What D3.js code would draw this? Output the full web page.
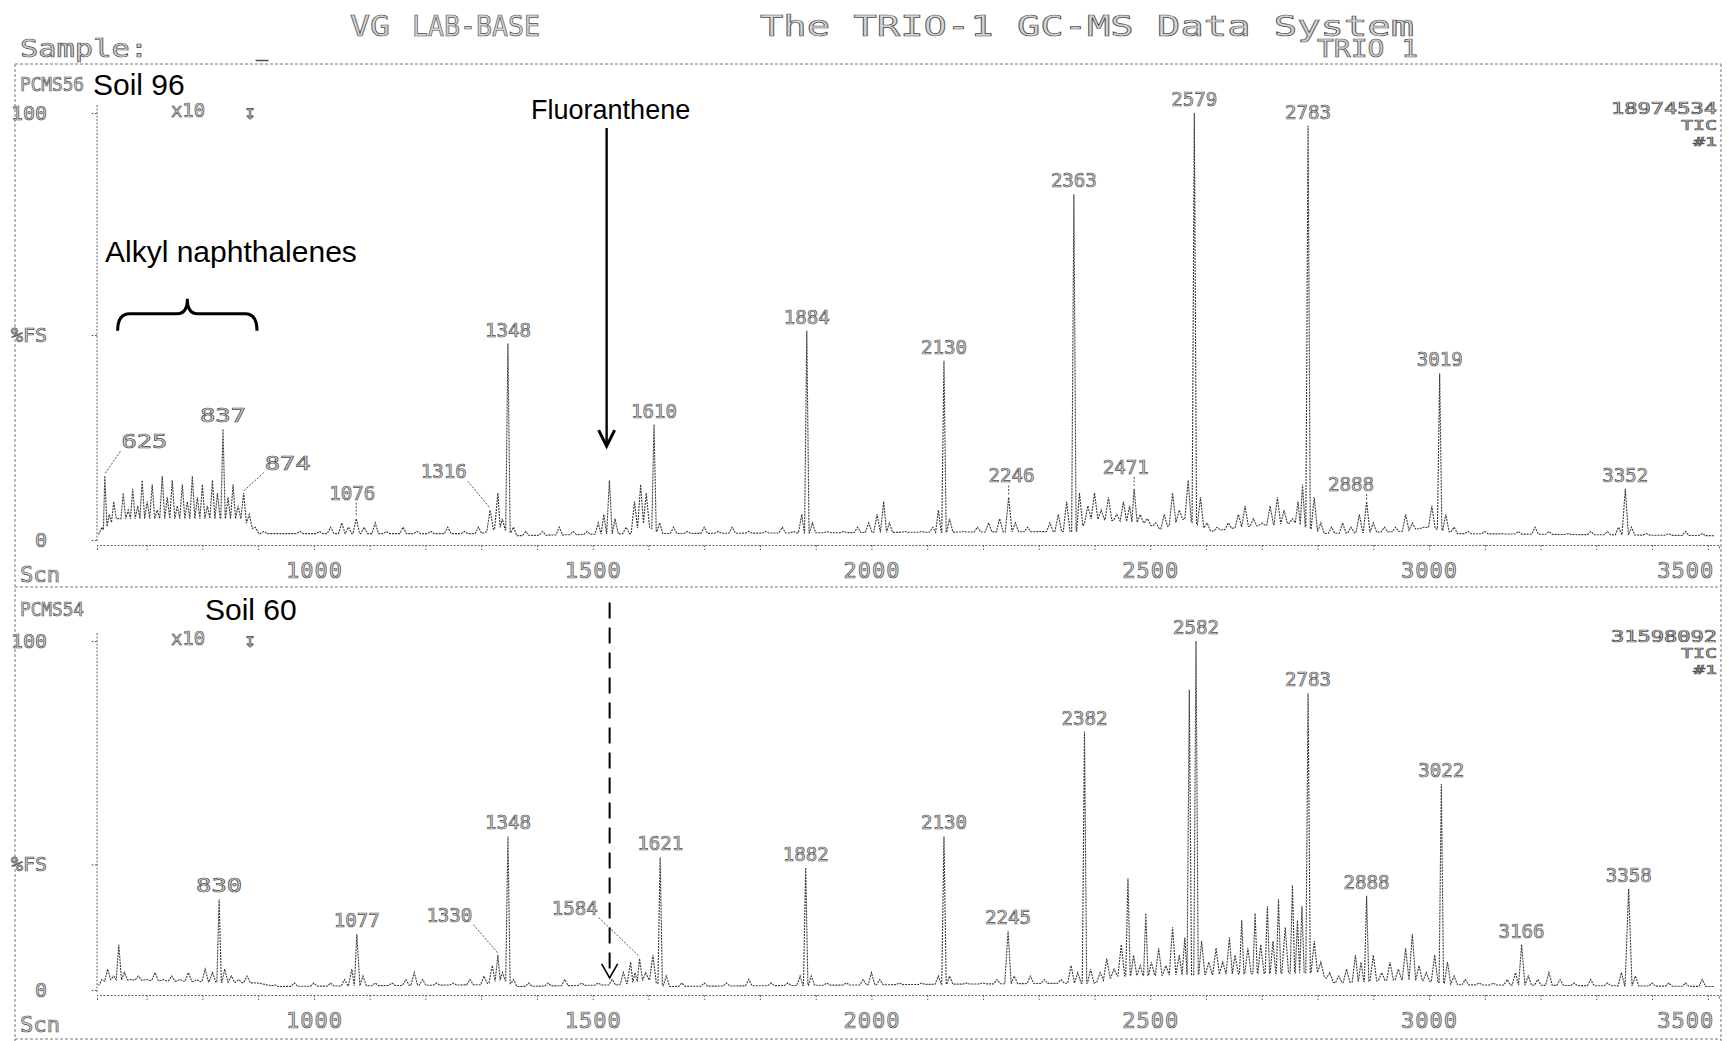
<!DOCTYPE html>
<html>
<head>
<meta charset="utf-8">
<script src="https://cdn.jsdelivr.net/npm/d3@7"></script>
<style>
  body { margin: 0; background: #fff; }
  .dm { font-family: "DejaVu Sans Mono", monospace; fill: #d4d4d4; stroke: #4d4d4d; stroke-width: 0.7; }
  .ann { font-family: "Liberation Sans", Arial, sans-serif; fill: #000; }
  .frame line { stroke: #777; stroke-width: 1; stroke-dasharray: 3 2; }
  .axis path, .axis line { stroke: #666; stroke-width: 1; stroke-dasharray: 2 1.5; }
  .trace { fill: none; stroke: #3a3a3a; stroke-width: 1.1; stroke-dasharray: 2 1; }
  .leader { stroke: #555; stroke-width: 1; stroke-dasharray: 2 1.5; }
</style>
</head>
<body>
<svg id="chart"></svg>
<script>
// scan range of the plots
var xDomain = [611, 3520];
var xTickLabels = [1000, 1500, 2000, 2500, 3000, 3500];
var xMinorTicks = [700, 800, 900, 1000, 1100, 1200, 1300, 1400, 1500, 1600, 1700, 1800, 1900, 2000,
  2100, 2200, 2300, 2400, 2500, 2600, 2700, 2800, 2900, 3000, 3100, 3200, 3300, 3400, 3500];
var yTickLabels = ["0", "%FS", "100"];
var topYTicks = [0, 48, 100];
var bottomYTicks = [0, 36, 100];

var panelIds = ["PCMS56", "PCMS54"];
var soilNames = ["Soil 96", "Soil 60"];
var ticTotals = ["18974534", "31598092"];

// [scan, % of full scale, (half width in scans)]
var topPeaks = [[620,3],[625,15],[633,6],[641,9],[650,5],[658,11],[667,7],[675,12],[684,8],[692,14],
  [701,9],[710,13],[719,7],[728,15],[737,10],[746,14],[755,8],[764,13],[773,9],[782,15],[791,10],
  [800,13],[809,8],[818,14],[827,11],[837,26],[846,10],[855,13],[864,8],[874,11],[884,6],[895,3],[910,2],
  [940,1.5],[975,2],[1010,2],[1030,3],[1050,4],[1062,3],[1076,5],[1090,3],[1110,4],[1130,2],[1160,3],
  [1185,2],[1210,2],[1240,3],[1270,2],[1295,3],[1316,7],[1330,11],[1338,5],[1348,46],[1358,3],
  [1380,2],[1410,2],[1440,3],[1465,2],[1490,2],[1510,4],[1520,6],[1530,14],[1540,5],[1560,3],[1575,9],
  [1586,13],[1596,11],[1610,27],[1620,4],[1645,3],[1670,2],[1700,3],[1725,2],[1750,3],[1780,2],[1810,2],
  [1840,3],[1860,2],[1875,6],[1884,49],[1894,4],[1920,2],[1950,2],[1975,3],[1995,4],[2010,6],[2022,9],
  [2032,4],[2060,2],[2090,2],[2110,3],[2120,7],[2130,42],[2140,5],[2165,2],[2190,3],[2210,4],[2230,5],
  [2246,10],[2258,4],[2280,3],[2300,2],[2320,4],[2335,6],[2350,9],[2363,81],[2373,11],[2388,8],[2400,11],
  [2412,7],[2425,10],[2440,6],[2452,9],[2463,8],[2471,12],[2482,6],[2495,5],[2510,4],[2525,6],[2540,11],
  [2552,7],[2568,14],[2579,100],[2590,10],[2602,4],[2620,3],[2640,4],[2658,6],[2670,8],[2685,5],[2700,4],
  [2715,8],[2728,10],[2740,7],[2755,5],[2765,9],[2773,13],[2783,97],[2794,10],[2806,4],[2825,3],[2845,4],
  [2860,3],[2875,6],[2888,9],[2900,4],[2920,3],[2940,3],[2958,6],[2970,4],[2990,3],[3005,8],[3019,39],
  [3030,6],[3045,3],[3070,2],[3100,2],[3130,1.5],[3160,2],[3190,3],[3215,2],[3250,1.5],[3290,2],[3320,2],
  [3340,3],[3352,12,7],[3363,3],[3390,1.5],[3430,1.5],[3460,2],[3490,1.5]];

// slowly varying floor under the peaks [scan, %]
var topBaseline = [[611,1],[628,3],[645,5],[870,5],[900,1.5],[1300,1.5],[1335,3],[1362,1],
  [1570,1.5],[1590,4],[1620,1.5],[2370,2],[2390,5],[2490,4],[2520,2.5],[2560,5],[2610,2],
  [2660,3],[2760,4],[2810,1.5],[2950,2],[3000,3],[3050,1.5],[3520,1]];

var bottomPeaks = [[620,3],[630,6],[641,4],[650,13],[660,5],[672,3],[685,4],[700,3],[715,5],[730,3],
  [745,4],[760,3],[775,5],[790,3],[805,6],[818,5],[830,26],[840,6],[852,4],[865,3],[880,4],[895,2],
  [930,1.5],[965,2],[1000,2],[1030,2],[1055,3],[1068,6],[1077,16],[1088,4],[1110,2],[1140,2],[1165,3],
  [1180,5],[1195,3],[1220,2],[1250,2],[1280,3],[1305,4],[1320,7],[1330,10],[1338,5],[1348,44],[1358,3],
  [1385,2],[1420,2],[1450,3],[1480,2],[1510,2],[1535,3],[1555,5],[1568,8],[1576,5],[1584,9],[1595,5],
  [1608,10],[1621,38],[1632,4],[1660,2],[1700,2],[1740,2],[1780,3],[1820,2],[1850,2],[1872,4],[1882,35],
  [1892,4],[1920,2],[1955,2],[1985,3],[2000,5],[2015,3],[2050,2],[2090,2],[2120,4],[2130,44],[2140,4],
  [2170,2],[2200,2],[2225,3],[2245,17],[2256,4],[2285,4],[2310,3],[2340,3],[2358,7],[2370,5],[2382,74],
  [2393,6],[2410,5],[2422,9],[2435,6],[2448,13],[2460,32],[2470,10],[2482,7],[2492,22],[2502,8],[2515,12],
  [2528,7],[2540,18],[2552,10],[2562,15],[2570,86],[2582,100],[2592,14],[2605,8],[2618,12],[2630,8],
  [2642,15],[2652,10],[2664,20],[2675,12],[2688,22],[2698,13],[2710,24],[2720,14],[2730,26],[2742,18],
  [2755,30],[2764,20],[2772,24],[2783,85],[2794,14],[2806,8],[2822,5],[2838,4],[2852,6],[2868,10],
  [2878,8],[2888,27],[2900,10],[2915,5],[2930,8],[2945,6],[2958,12],[2970,16],[2982,7],[2995,5],[3010,10],
  [3022,59],[3033,8],[3045,4],[3065,3],[3090,2],[3115,2],[3140,3],[3155,5],[3166,13],[3178,4],[3195,3],
  [3215,5],[3235,3],[3260,2],[3290,3],[3320,2],[3345,5],[3358,29,7],[3370,4],[3400,2],[3430,2],[3460,2],[3490,3]];

var bottomBaseline = [[611,1],[630,3],[900,2],[930,1],[1300,1.5],[1340,3],[1362,1],[1550,1.5],
  [1600,3],[1630,1],[2400,2],[2440,4],[2800,5],[2830,2],[2950,3],[3000,2.5],[3050,1.5],[3520,1]];

// peak labels: [text, label scan, label %] (label scan/% only where the label sits off the peak)
var topLabels = [["625",696,21],["837"],["874",953,16],["1076",1069,9],["1316",1233,14],["1348"],
  ["1610"],["1884"],["2130"],["2246",2251,13],["2363"],["2471",2456,15],["2579"],["2783"],
  ["2888",2860,11],["3019"],["3352"]];
var bottomLabels = [["830"],["1077"],["1330",1243,19],["1348"],["1584",1468,21],["1621"],["1882"],
  ["2130"],["2245"],["2382"],["2582"],["2783"],["2888"],["3022"],["3166"],["3358"]];

var fluorantheneScan = 1525;
var naphthaleneRange = [648, 898];

var W = 1728, H = 1041;
var svg = d3.select("#chart").attr("width", W).attr("height", H);
var x = d3.scaleLinear().domain(xDomain).range([97, 1719]);

function dmText(g, str, px, py, size, anchor, len) {
  var t = g.append("text").attr("class", "dm")
    .attr("x", px).attr("y", py)
    .attr("font-size", size)
    .attr("text-anchor", anchor || "start")
    .attr("dominant-baseline", "central")
    .text(str);
  if (len) t.attr("textLength", len).attr("lengthAdjust", "spacingAndGlyphs");
  return t;
}

// header lines
var head = svg.append("g");
dmText(head, "VG", 350, 26, 28, "start", 40);
dmText(head, "LAB-BASE", 412, 26, 28, "start", 128);
dmText(head, "The TRIO-1 GC-MS Data System", 760, 26, 28, "start", 654);
dmText(head, "Sample:", 20, 49, 24, "start", 128);
dmText(head, "_", 256, 49, 20);
dmText(head, "TRIO 1", 1317, 49, 24, "start", 101);

// printer frame
var frame = svg.append("g").attr("class", "frame");
[[15, 64, 1721, 64], [15, 587, 1721, 587], [15, 1039, 1721, 1039],
 [15, 64, 15, 1041], [1721, 64, 1721, 1041]].forEach(function(l) {
  frame.append("line").attr("x1", l[0]).attr("y1", l[1]).attr("x2", l[2]).attr("y2", l[3]);
});

var panels = [
  { id: panelIds[0], soil: soilNames[0], tic: ticTotals[0], peaks: topPeaks, base: topBaseline,
    labels: topLabels, ticks: topYTicks,
    y: d3.scaleLinear().domain([0, 100]).range([540, 113]), headY: 84, axisY: 545, soilX: 93 },
  { id: panelIds[1], soil: soilNames[1], tic: ticTotals[1], peaks: bottomPeaks, base: bottomBaseline,
    labels: bottomLabels, ticks: bottomYTicks,
    y: d3.scaleLinear().domain([0, 100]).range([990, 641]), headY: 609, axisY: 995, soilX: 205 }
];

var line = d3.line();

panels.forEach(function(p, i) {
  var g = svg.append("g");
  var y = p.y;

  dmText(g, p.id, 20, p.headY, 20, "start", 64);
  g.append("text").attr("class", "ann").attr("x", p.soilX).attr("y", p.headY)
    .attr("dominant-baseline", "central").attr("font-size", 30).text(p.soil);

  // y axis
  var yAxis = g.append("g").attr("class", "axis")
    .attr("transform", "translate(" + x(xDomain[0]) + ",0)")
    .call(d3.axisLeft(y).tickValues(p.ticks).tickSize(6).tickPadding(44)
      .tickFormat(function(d) { return yTickLabels[p.ticks.indexOf(d)]; }));
  yAxis.select(".domain").attr("d", "M0," + (y(100) - 8) + "V" + (y(0) + 2));
  yAxis.selectAll("text").attr("class", "dm").attr("font-size", 20).attr("font-family", null);

  // x axis
  var xAxis = g.append("g").attr("class", "axis")
    .attr("transform", "translate(0," + p.axisY + ")")
    .call(d3.axisBottom(x).tickValues(xMinorTicks).tickSize(5).tickPadding(12)
      .tickFormat(function(d) { return xTickLabels.indexOf(d) >= 0 ? d : ""; }));
  xAxis.selectAll("text").attr("class", "dm").attr("font-size", 22).attr("font-family", null)
    .attr("letter-spacing", 1)
    .filter(function(d) { return d === xTickLabels[xTickLabels.length - 1]; })
    .attr("text-anchor", "end").attr("dx", 6);
  dmText(g, "Scn", 20, p.axisY + 29, 22, "start", 40);

  // scale marks
  dmText(g, "x10", 171, y(100) - 3, 20, "start", 34);
  dmText(g, "\u21A7", 250, y(100) - 1, 20, "middle");
  dmText(g, p.tic, 1717, y(100) - 4, 15, "end", 106);
  dmText(g, "TIC", 1717, y(100) + 12, 14, "end", 36);
  dmText(g, "#1", 1717, y(100) + 28, 13, "end", 24);

  // baseline level at a scan, read between the listed floor points
  var floor = d3.scaleLinear().domain(p.base.map(function(d) { return d[0]; }))
    .range(p.base.map(function(d) { return d[1]; })).clamp(true);

  // chromatogram trace: each peak drawn as a spike from the floor
  var pts = [[xDomain[0] + 4, floor(xDomain[0] + 4)]];
  p.peaks.forEach(function(d, k) {
    var prev = k > 0 ? p.peaks[k - 1][0] : d[0] - 20;
    var next = k < p.peaks.length - 1 ? p.peaks[k + 1][0] : d[0] + 20;
    var w = d[2] || (d[1] < 20 ? 6 : 4);
    var wl = Math.min(w, (d[0] - prev) / 2), wr = Math.min(w, (next - d[0]) / 2);
    pts.push([d[0] - wl, floor(d[0] - wl)], [d[0], Math.max(d[1], floor(d[0]))], [d[0] + wr, floor(d[0] + wr)]);
  });
  pts.push([xDomain[1] - 8, floor(xDomain[1] - 8)]);
  g.append("path").attr("class", "trace")
    .attr("d", line(pts.map(function(d) { return [x(d[0]), y(d[1])]; })));

  // peak labels
  p.labels.forEach(function(l) {
    var scan = +l[0];
    var pk = p.peaks.find(function(d) { return d[0] === scan; });
    if (l.length > 1) {
      var lx = x(l[1]), ly = y(l[2]);
      dmText(g, l[0], lx, ly - 9, 20, "middle", 46);
      var sx = lx + Math.max(-24, Math.min(24, x(scan) - lx));
      g.append("line").attr("class", "leader")
        .attr("x1", sx).attr("y1", ly + 1).attr("x2", x(scan)).attr("y2", y(pk[1]) - 2);
    } else {
      dmText(g, l[0], x(scan), y(pk[1]) - 14, 20, "middle", 46);
    }
  });
});

// annotations
var yT = panels[0].y, yB = panels[1].y;
var ann = svg.append("g");
var fx = x(fluorantheneScan);
ann.append("text").attr("class", "ann").attr("x", fx + 4).attr("y", yT(100) - 3)
  .attr("text-anchor", "middle").attr("dominant-baseline", "central").attr("font-size", 27)
  .text("Fluoranthene");
ann.append("line").attr("x1", fx).attr("x2", fx).attr("y1", yT(96.5)).attr("y2", yT(22))
  .attr("stroke", "#000").attr("stroke-width", 2.4);
ann.append("path").attr("d", "M" + (fx - 8) + "," + (yT(22) - 16) + "L" + fx + "," + yT(22) + "L" + (fx + 8) + "," + (yT(22) - 16))
  .attr("fill", "none").attr("stroke", "#000").attr("stroke-width", 3);
ann.append("line").attr("x1", fx + 3).attr("x2", fx + 3).attr("y1", yB(111)).attr("y2", yB(3.5))
  .attr("stroke", "#000").attr("stroke-width", 2).attr("stroke-dasharray", "16 9");
ann.append("path").attr("d", "M" + (fx - 5) + "," + (yB(3.5) - 14) + "L" + (fx + 3) + "," + yB(3.5) + "L" + (fx + 11) + "," + (yB(3.5) - 14))
  .attr("fill", "none").attr("stroke", "#000").attr("stroke-width", 1.6);

ann.append("text").attr("class", "ann").attr("x", 105).attr("y", yT(67.5))
  .attr("dominant-baseline", "central").attr("font-size", 30).text("Alkyl naphthalenes");
var bx0 = x(naphthaleneRange[0]), bx1 = x(naphthaleneRange[1]), bm = (bx0 + bx1) / 2;
var byB = yT(49), byT = yT(53), byP = yT(56.5);
ann.append("path")
  .attr("d", "M" + bx0 + "," + byB + "Q" + bx0 + "," + byT + " " + (bx0 + 12) + "," + byT +
    "L" + (bm - 10) + "," + byT + "Q" + bm + "," + byT + " " + bm + "," + byP +
    "Q" + bm + "," + byT + " " + (bm + 10) + "," + byT +
    "L" + (bx1 - 12) + "," + byT + "Q" + bx1 + "," + byT + " " + bx1 + "," + byB)
  .attr("fill", "none").attr("stroke", "#000").attr("stroke-width", 3);
</script>
</body>
</html>
